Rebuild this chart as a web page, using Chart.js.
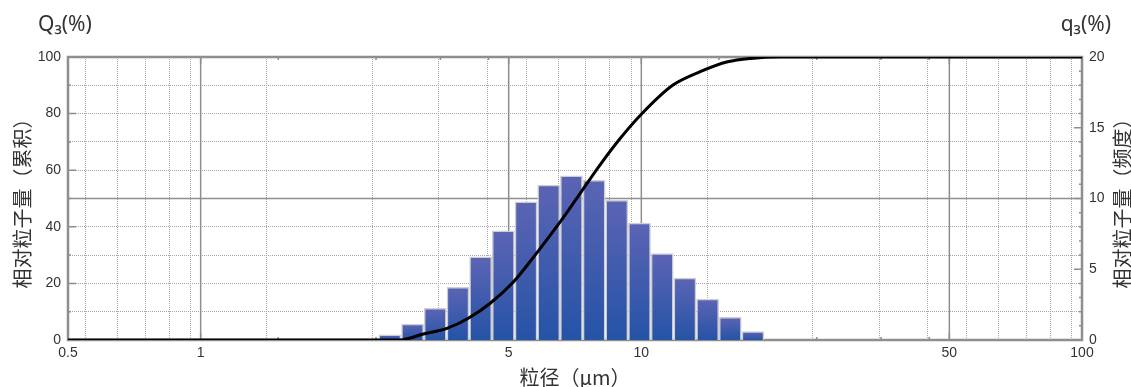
<!DOCTYPE html>
<html><head><meta charset="utf-8">
<script src="https://cdn.jsdelivr.net/npm/chart.js@4.4.1/dist/chart.umd.min.js"></script>
<style>html,body{margin:0;padding:0;background:#fff;}#wrap{width:1131px;height:387px;}</style>
</head><body><div id="wrap"><canvas id="c" width="1131" height="387"></canvas></div>
<script>
// ---- data ----
const binCenters = [2.688, 3.026, 3.407, 3.836, 4.319, 4.863, 5.475, 6.164, 6.940, 7.814, 8.798, 9.906, 11.15, 12.56, 14.14, 15.92, 17.92];
const frequency  = [0.37, 1.13, 2.23, 3.72, 5.87, 7.72, 9.77, 10.95, 11.61, 11.28, 9.87, 8.27, 6.10, 4.38, 2.90, 1.60, 0.59];
const cumSizes   = [0.5, 2.5, 2.83, 3.2, 3.62, 4.05, 4.54, 5.13, 5.74, 6.55, 7.14, 8.0, 8.96, 10.1, 11.8, 13.6, 15.7, 17.7, 20.7, 100];
const cumValues  = [0, 0, 0, 2.1, 4.1, 7.7, 13.0, 20.6, 30.0, 41.8, 50.1, 61.2, 71.3, 80.5, 90.1, 94.8, 98.3, 99.5, 100, 100];
const xTickValues = [0.5, 0.6, 0.7, 0.8, 0.9, 1, 2, 3, 4, 5, 6, 7, 8, 9, 10, 20, 30, 40, 50, 60, 70, 80, 90, 100];
const xLabelValues = [0.5, 1, 5, 10, 50, 100];
const xMajorLines = [1, 5, 10, 50];
const xMinorMarks = [1.5, 2.5, 3.5, 4.5, 15, 25, 35, 45];
const leftTickLabels = [0, 20, 40, 60, 80, 100];
const rightTickLabels = [0, 5, 10, 15, 20];
const leftTitle = '相对粒子量（累积）';
const rightTitle = '相对粒子量（频度）';
const xTitle = '粒径（μm）';
const leftHeader = 'Q₃(%)';
const rightHeader = 'q₃(%)';

const TEXT = '#333333';
const GRID = '#a8a8a8';
const FRAME = '#8e8e8e';
const CJK = '"Noto Sans CJK SC", "Noto Sans", sans-serif';
const NUM = '"Liberation Sans", Arial, sans-serif';

const decorPlugin = {
  id: 'decor',
  beforeDatasetsDraw(chart) {
    const {ctx, chartArea: a, scales} = chart;
    const x = scales.x, yl = scales.y, yr = scales.y2;
    ctx.save();
    ctx.strokeStyle = FRAME;
    ctx.lineWidth = 1.5;
    ctx.beginPath();
    xMajorLines.forEach(v => { const px = x.getPixelForValue(v); ctx.moveTo(px, a.top); ctx.lineTo(px, a.bottom); });
    const p50 = yl.getPixelForValue(50);
    ctx.moveTo(a.left, p50); ctx.lineTo(a.right, p50);
    ctx.stroke();
    // inner tick marks
    ctx.lineWidth = 1.5;
    ctx.beginPath();
    for (let v = 10; v < 100; v += 10) {
      const py = yl.getPixelForValue(v); const len = v % 20 === 0 ? 8 : 3;
      ctx.moveTo(a.left, py); ctx.lineTo(a.left + len, py);
    }
    for (let v = 1; v < 20; v += 1) {
      const py = yr.getPixelForValue(v); const len = v % 5 === 0 ? 8 : 3;
      ctx.moveTo(a.right, py); ctx.lineTo(a.right - len, py);
    }
    xMajorLines.forEach(v => { const px = x.getPixelForValue(v);
      ctx.moveTo(px, a.top); ctx.lineTo(px, a.top + 7); ctx.moveTo(px, a.bottom); ctx.lineTo(px, a.bottom - 7); });
    xMinorMarks.forEach(v => { const px = x.getPixelForValue(v);
      ctx.moveTo(px, a.top); ctx.lineTo(px, a.top + 3); ctx.moveTo(px, a.bottom); ctx.lineTo(px, a.bottom - 3); });
    ctx.stroke();
    ctx.lineWidth = 2.5;
    ctx.strokeRect(a.left, a.top, a.right - a.left, a.bottom - a.top);
    ctx.restore();
  },
  afterDraw(chart) {
    const {ctx, chartArea: a} = chart;
    ctx.save();
    ctx.fillStyle = TEXT;
    ctx.textBaseline = 'middle';
    ctx.font = '21px "Noto Sans", sans-serif';
    ctx.textAlign = 'left';
    ctx.fillText(leftHeader, 38, 25);
    ctx.textAlign = 'right';
    ctx.fillText(rightHeader, 1111, 25);
    ctx.font = '20px ' + CJK;
    ctx.textAlign = 'center';
    ctx.translate(1122, (a.top + a.bottom) / 2);
    ctx.rotate(-Math.PI / 2);
    ctx.fillText(rightTitle, 0, 0);
    ctx.restore();
  }
};

const barFill = (c) => {
  const chart = c.chart;
  if (!chart.chartArea || c.type !== 'data' || !chart.scales.y2) return '#3c58a8';
  const s = chart.scales.y2;
  const top = s.getPixelForValue(c.raw.y), bot = s.getPixelForValue(0);
  const g = chart.ctx.createLinearGradient(0, top, 0, bot);
  g.addColorStop(0, '#5c64b4');
  g.addColorStop(1, '#2553a6');
  return g;
};

new Chart(document.getElementById('c'), {
  type: 'bar',
  data: {
    datasets: [
      {
        type: 'line',
        label: 'Q3',
        data: cumSizes.map((s, i) => ({x: s, y: cumValues[i]})),
        xAxisID: 'x', yAxisID: 'y',
        borderColor: '#000', borderWidth: 3, pointRadius: 0,
        cubicInterpolationMode: 'monotone', order: 0
      },
      {
        type: 'bar',
        label: 'q3',
        data: binCenters.map((s, i) => ({x: s, y: frequency[i]})),
        xAxisID: 'x', yAxisID: 'y2',
        backgroundColor: barFill,
        borderColor: '#cdcdd4', borderWidth: 1.5, borderSkipped: 'bottom',
        barThickness: 'flex', barPercentage: 0.97, categoryPercentage: 1,
        order: 1
      }
    ]
  },
  options: {
    responsive: false, animation: false, devicePixelRatio: 1,
    layout: {padding: {left: 0, right: 0, top: 57, bottom: 0}},
    plugins: {legend: {display: false}, tooltip: {enabled: false}},
    scales: {
      x: {
        type: 'logarithmic', position: 'bottom', min: 0.5, max: 100,
        afterBuildTicks: s => { s.ticks = xTickValues.map(v => ({value: v})); },
        afterFit: s => { s.height = 47; },
        ticks: {
          autoSkip: false, maxRotation: 0, minRotation: 0, padding: 5,
          color: TEXT, font: {size: 14, family: NUM},
          callback: v => xLabelValues.includes(v) ? String(v) : ''
        },
        grid: {color: GRID, lineWidth: 1, drawTicks: false},
        border: {display: false, dash: [1, 1]},
        title: {display: true, text: xTitle, color: TEXT, font: {size: 20, family: CJK, lineHeight: 1}, padding: {top: 0, bottom: 0}}
      },
      y: {
        type: 'linear', position: 'left', min: 0, max: 100,
        afterBuildTicks: s => { const t = []; for (let v = 0; v <= 100; v += 10) t.push({value: v}); s.ticks = t; },
        afterFit: s => { s.width = 68; },
        ticks: {
          autoSkip: false, padding: 7, color: TEXT, font: {size: 14, family: NUM},
          callback: v => leftTickLabels.includes(v) ? String(v) : ''
        },
        grid: {color: GRID, lineWidth: 1, drawTicks: false},
        border: {display: false, dash: [1, 1]},
        title: {display: true, text: leftTitle, color: TEXT, font: {size: 20, family: CJK, lineHeight: 1.2}, padding: {top: 10, bottom: 0}}
      },
      y2: {
        type: 'linear', position: 'right', min: 0, max: 20,
        afterBuildTicks: s => { s.ticks = rightTickLabels.map(v => ({value: v})); },
        afterFit: s => { s.width = 49; },
        ticks: {autoSkip: false, padding: 7, color: TEXT, font: {size: 14, family: NUM}},
        grid: {display: false, drawTicks: false},
        border: {display: false}
      }
    }
  },
  plugins: [decorPlugin]
});
</script>
</body></html>
